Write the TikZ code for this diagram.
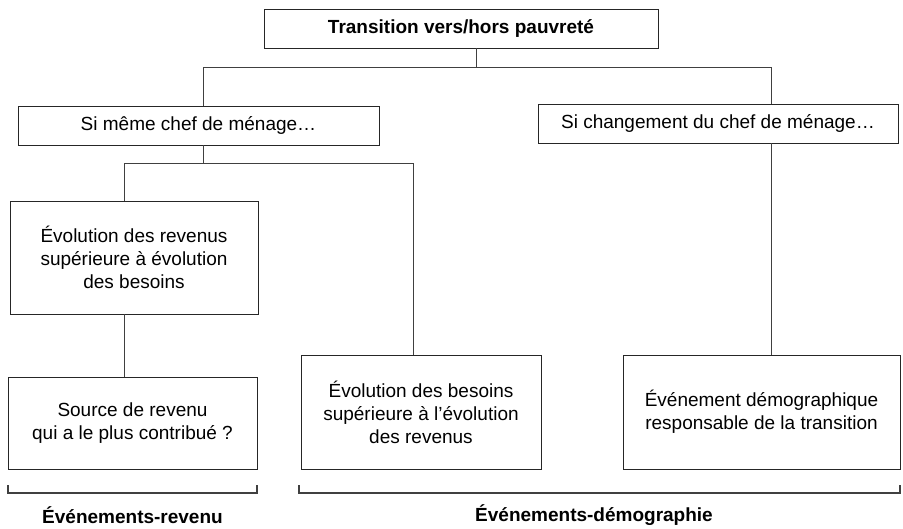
\documentclass[tikz,border=0pt]{standalone}
\usepackage{fontspec}
\setmainfont{Liberation Sans}
\usepackage{tikz}

\begin{document}
\begin{tikzpicture}[x=1pt,y=-1pt,line cap=butt]
	\tikzstyle{boite}=[draw=black!85,line width=0.9pt,fill=white,inner sep=0pt,align=center,font=\fontsize{19}{23}\selectfont];
	\tikzstyle{lien}=[draw=black!75,line width=1pt];
	\tikzstyle{crochet}=[draw=black!75,line width=1.3pt];
	\tikzstyle{titre}=[inner sep=0pt,font=\fontsize{19}{23}\selectfont\bfseries];
	\useasboundingbox (0,0) rectangle (903,528);

	\node[boite,minimum width=394pt,minimum height=39pt,font=\fontsize{19}{23}\selectfont\bfseries] (trans) at (461,28.5) {Transition vers/hors pauvreté};
	\node[boite,minimum width=361pt,minimum height=39pt] (meme)   at (198.5,125.5) {Si même chef de ménage…};
	\node[boite,minimum width=360pt,minimum height=39pt] (chef)   at (718,123.5)   {Si changement du chef de ménage…};
	\node[boite,minimum width=248pt,minimum height=113pt] (revenu) at (134,257.5) {Évolution des revenus\\supérieure à évolution\\des besoins};
	\node[boite,minimum width=249pt,minimum height=92pt]  (source) at (132.5,423) {Source de revenu\\qui a le plus contribué ?};
	\node[boite,minimum width=240pt,minimum height=114pt] (besoin) at (421,412)   {Évolution des besoins\\supérieure à l’évolution\\des revenus};
	\node[boite,minimum width=277pt,minimum height=114pt] (demo)   at (761.5,412) {Événement démographique\\responsable de la transition};

	\coordinate (n0) at (476,67);
	\coordinate (n1) at (203,67);
	\coordinate (n2) at (771,67);
	\coordinate (n3) at (203,163);
	\coordinate (n4) at (124,163);
	\coordinate (n5) at (413,163);

	\draw[lien] (n1) -- (n2);
	\draw[lien] (n0 |- trans.south) -- (n0);
	\draw[lien] (n1) -- (n1 |- meme.north);
	\draw[lien] (n1 |- meme.south) -- (n3);
	\draw[lien] (n4) -- (n5);
	\draw[lien] (n4) -- (n4 |- revenu.north);
	\draw[lien] (n4 |- revenu.south) -- (n4 |- source.north);
	\draw[lien] (n5) -- (n5 |- besoin.north);
	\draw[lien] (n2) -- (n2 |- chef.north);
	\draw[lien] (n2 |- chef.south) -- (n2 |- demo.north);

	\draw[crochet] (8,485) -- (8,493) -- (257,493) -- (257,485);
	\draw[crochet] (299,485) -- (299,493) -- (900,493) -- (900,485);
	\node[titre] (evrev)  at (132.5,515) {Événements-revenu};
	\node[titre] (evdemo) at (594,515)   {Événements-démographie};
\end{tikzpicture}
\end{document}
